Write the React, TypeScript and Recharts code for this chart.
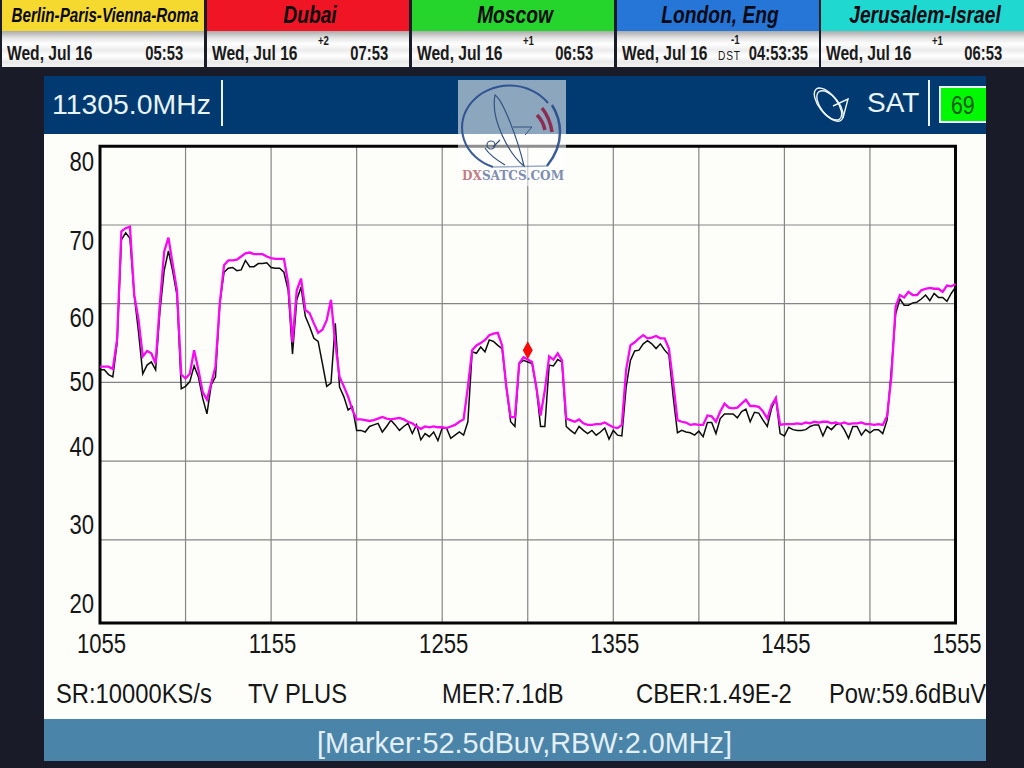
import { CartesianGrid, Line, LineChart, ReferenceArea, ReferenceDot, XAxis, YAxis } from "recharts";

const freqs = [
  1055, 1057.5, 1060, 1062.5, 1065, 1067.5, 1070, 1072.5, 1075, 1077.5, 1080, 1082.5, 1085, 1087.5, 1090, 1092.5, 1095, 1097.5, 1100, 1102.5,
  1105, 1107.5, 1110, 1112.5, 1115, 1117.5, 1120, 1122.5, 1125, 1127.5, 1130, 1132.5, 1135, 1137.5, 1140, 1142.5, 1145, 1147.5, 1150, 1152.5,
  1155, 1157.5, 1160, 1162.5, 1165, 1167.5, 1170, 1172.5, 1175, 1177.5, 1180, 1182.5, 1185, 1187.5, 1190, 1192.5, 1195, 1197.5, 1200, 1202.5,
  1205, 1207.5, 1210, 1212.5, 1215, 1217.5, 1220, 1222.5, 1225, 1227.5, 1230, 1232.5, 1235, 1237.5, 1240, 1242.5, 1245, 1247.5, 1250, 1252.5,
  1255, 1257.5, 1260, 1262.5, 1265, 1267.5, 1270, 1272.5, 1275, 1277.5, 1280, 1282.5, 1285, 1287.5, 1290, 1292.5, 1295, 1297.5, 1300, 1302.5,
  1305, 1307.5, 1310, 1312.5, 1315, 1317.5, 1320, 1322.5, 1325, 1327.5, 1330, 1332.5, 1335, 1337.5, 1340, 1342.5, 1345, 1347.5, 1350, 1352.5,
  1355, 1357.5, 1360, 1362.5, 1365, 1367.5, 1370, 1372.5, 1375, 1377.5, 1380, 1382.5, 1385, 1387.5, 1390, 1392.5, 1395, 1397.5, 1400, 1402.5,
  1405, 1407.5, 1410, 1412.5, 1415, 1417.5, 1420, 1422.5, 1425, 1427.5, 1430, 1432.5, 1435, 1437.5, 1440, 1442.5, 1445, 1447.5, 1450, 1452.5,
  1455, 1457.5, 1460, 1462.5, 1465, 1467.5, 1470, 1472.5, 1475, 1477.5, 1480, 1482.5, 1485, 1487.5, 1490, 1492.5, 1495, 1497.5, 1500, 1502.5,
  1505, 1507.5, 1510, 1512.5, 1515, 1517.5, 1520, 1522.5, 1525, 1527.5, 1530, 1532.5, 1535, 1537.5, 1540, 1542.5, 1545, 1547.5, 1550, 1552.5,
  1555,
];

const maxHold = [
  52, 52, 52, 51.7, 55.5, 69.2, 69.6, 69.8, 61.1, 58, 53.3, 54, 53.7, 52.4, 60, 66.6, 68.4, 65, 61.7, 51,
  50.5, 51.1, 54.1, 51.6, 48.8, 47.8, 49.9, 52, 60, 64.9, 65.5, 65.5, 65.6, 66, 66.4, 66.5, 66.3, 66.3, 66.3, 66,
  65.8, 65.7, 65.7, 65.7, 62.6, 55.1, 61.7, 63.2, 59.2, 58.8, 57.5, 56.3, 56.7, 57.9, 60.5, 55, 50.7, 49.5, 48.2, 46.5,
  45.3, 45.3, 45.2, 45.1, 45.2, 45.4, 45.6, 45.4, 45.3, 45.4, 45.5, 45.3, 45, 44.8, 44.4, 44.1, 44.4, 44.3, 44.4, 44.3,
  44.3, 44.2, 44.4, 44.6, 45, 45.3, 49.4, 54.1, 54.7, 55, 55.4, 56, 56.2, 56.3, 54.7, 49.4, 45.6, 45.6, 52.4, 53.2,
  52.9, 52.6, 49.4, 45.8, 49, 53.3, 52.9, 53.7, 52.8, 45.4, 45.2, 45, 45.3, 44.8, 44.6, 44.6, 44.7, 44.7, 44.9, 44.6,
  44.3, 44.2, 44.6, 51.6, 54.7, 55.1, 55.6, 56, 55.6, 55.7, 55.9, 55.6, 55.6, 54.3, 49.9, 45.2, 45, 44.9, 44.6, 44.7,
  44.6, 44.6, 45.8, 45.7, 45, 46.3, 47.3, 46.8, 46.7, 46.8, 47.3, 47.8, 47, 47, 46.9, 46.3, 45.4, 47.1, 48, 44.6,
  44.7, 44.7, 44.7, 44.8, 44.7, 44.9, 44.8, 45, 44.9, 45, 45, 44.8, 44.9, 44.7, 44.9, 44.7, 44.8, 44.8, 44.9, 44.7,
  44.7, 44.6, 44.7, 44.6, 45.7, 50.7, 59.6, 61.1, 60.8, 61.5, 61.1, 61.1, 61.7, 61.9, 62, 61.9, 61.9, 61.5, 62.3, 62.2,
  62.5,
];

const live = [
  51.6, 51.6, 51, 50.7, 55, 68.1, 69, 68.3, 61.1, 56.4, 51.1, 52.2, 52.6, 51.6, 59, 64.2, 66.7, 64.1, 61.1, 49.2,
  49.5, 50.1, 52.1, 50.7, 48, 46, 49.7, 50.7, 60, 64, 64.5, 64.6, 64.2, 64.3, 65.5, 64.7, 64.7, 65.1, 65.1, 65.2,
  64.6, 64.5, 64.5, 64, 61.7, 53.6, 60.5, 62.1, 58.4, 57.1, 55.6, 55.2, 52.4, 49.5, 49.9, 57.5, 49.4, 48.2, 46.5, 46.9,
  43.9, 43.9, 43.7, 44.4, 44.6, 44.8, 43.7, 44.4, 45.2, 44.6, 43.9, 44.4, 44.8, 43.5, 44.6, 42.7, 43.5, 43.1, 43.7, 42.6,
  44.2, 44.2, 42.9, 43.3, 43.7, 43.3, 45, 53.9, 53.7, 54.5, 53.9, 55.4, 55.2, 54.7, 54.3, 49.4, 45, 44.4, 52.4, 52.8,
  52.6, 52.4, 49.4, 44.4, 44.4, 52.2, 52.1, 52.9, 52.6, 44.4, 43.9, 43.5, 44.4, 43.9, 43.5, 43.9, 43.3, 43.7, 44.2, 42.8,
  43.9, 43.3, 43.2, 49.4, 52.8, 54, 54.1, 54.9, 55.3, 54.9, 54.3, 54.9, 54.1, 53.5, 48.2, 43.6, 43.9, 43.7, 43.6, 43.3,
  43.8, 43.1, 44.9, 44.9, 43.5, 45.4, 46, 46, 46, 45.5, 46.3, 46.6, 45, 46.2, 46.1, 45.2, 44.4, 46.7, 48, 43.5,
  43.2, 44.3, 44, 43.9, 43.9, 44, 44.4, 44.6, 44.6, 43.2, 44.4, 44, 44.6, 44.8, 44, 42.9, 44.4, 44.4, 43.3, 44,
  43.6, 44, 44, 43.5, 45.2, 51.6, 58.7, 60.6, 59.8, 59.8, 60.1, 60.2, 60.6, 61.1, 60.4, 61.3, 60.8, 60.8, 60.3, 61.3,
  62.1,
];

const xTicks = [1055, 1105, 1155, 1205, 1255, 1305, 1355, 1405, 1455, 1505, 1555];
const xLabels = [1055, 1155, 1255, 1355, 1455, 1555];
const yTicks = [20, 30, 40, 50, 60, 70, 80];
const gridLevels = [30, 40, 50, 60, 70];
const markerFreq = 1305;
const markerLevel = 54.1;

const cities = ["Berlin-Paris-Vienna-Roma", "Dubai", "Moscow", "London, Eng", "Jerusalem-Israel"];
const cityOffsets = ["", "+2", "+1", "-1", "+1"];
const cityTimes = ["05:53", "07:53", "06:53", "04:53:35", "06:53"];
const cityColors = ["#f6d92e", "#f01524", "#25d52c", "#2676d8", "#1fd8cf"];
const cityDate = "Wed, Jul 16";

const infoItems = ["SR:10000KS/s", "TV PLUS", "MER:7.1dB", "CBER:1.49E-2", "Pow:59.6dBuV"];

const data = freqs.map((freq, i) => ({ freq, live: live[i], maxHold: maxHold[i] }));

const sans = '"Liberation Sans", Arial, sans-serif';

const cellLeft = [2, 207, 412, 617, 821];
const cellWidth = [202, 202, 202, 202, 203];
const infoLeft = [12, 204, 398, 592, 785];
const yShift: Record<number, number> = { 80: 15, 70: 15, 60: 14, 50: -1, 40: -15, 30: -15, 20: -15 };

function XTick({ x, y, payload }: any) {
  if (!xLabels.includes(payload.value)) return null;
  return (
    <text transform={`translate(${x + 1.5} ${y + 22}) scale(0.82 1)`} textAnchor="middle" fontFamily={sans} fontSize={27} fill="#161616">
      {payload.value}
    </text>
  );
}

function YTick({ y, payload, side }: any) {
  const left = side === "left";
  return (
    <text
      transform={`translate(${left ? 50 : 918} ${y + yShift[payload.value] + 9.5}) scale(0.82 1)`}
      textAnchor={left ? "end" : "start"}
      fontFamily={sans}
      fontSize={27}
      fill="#161616"
    >
      {payload.value}
    </text>
  );
}

function Marker({ cx, cy }: any) {
  return <path d={`M ${cx} ${cy - 9} L ${cx + 5} ${cy} L ${cx} ${cy + 9} L ${cx - 5} ${cy} Z`} fill="#f80a0a" />;
}

function Clock({ i }: { i: number }) {
  const small = { position: "absolute", fontFamily: sans, fontSize: 12, lineHeight: "14px", color: "#1a1a1a", whiteSpace: "nowrap" } as const;
  const body = { position: "absolute", top: 41, fontFamily: sans, fontWeight: 700, fontSize: 20, lineHeight: "24px", color: "#1a1a1a", whiteSpace: "nowrap" } as const;
  return (
    <div
      style={{
        position: "absolute",
        left: cellLeft[i],
        top: 0,
        width: cellWidth[i],
        height: 67,
        overflow: "hidden",
        background:
          "linear-gradient(#a9a9a9 31px, #e4e4e4 38px, #fff 44px, #ececec 50px, #fff 56px, #e8e8e8 62px, #f4f4f4 67px)",
      }}
    >
      <div style={{ position: "absolute", left: 0, top: 0, width: "100%", height: 31, background: cityColors[i] }} />
      <div
        style={{
          position: "absolute",
          left: "calc(50% + 2px)",
          top: 0,
          transform: `translateX(-50%) scaleX(${i === 0 ? 0.76 : 0.8})`,
          fontFamily: sans,
          fontWeight: 700,
          fontStyle: "italic",
          fontSize: i === 0 ? 20 : 24,
          lineHeight: "30px",
          color: "#0a0a14",
          whiteSpace: "nowrap",
        }}
      >
        {cities[i]}
      </div>
      <div style={{ ...body, left: 5, transform: "scaleX(0.78)", transformOrigin: "left" }}>{cityDate}</div>
      <div style={{ ...small, fontWeight: 700, left: i === 3 ? 114 : 111, top: i === 3 ? 33 : 34, transform: "scaleX(0.8)", transformOrigin: "left" }}>
        {cityOffsets[i]}
      </div>
      {i === 3 && <div style={{ ...small, left: 101, top: 49, transform: "scaleX(0.85)", transformOrigin: "left", letterSpacing: 1 }}>DST</div>}
      <div style={{ ...body, right: i === 3 ? 11 : i === 4 ? 22 : 21, transform: "scaleX(0.74)", transformOrigin: "right" }}>{cityTimes[i]}</div>
    </div>
  );
}

function Logo() {
  return (
    <svg width={1024} height={768} style={{ position: "absolute", left: 0, top: 0, pointerEvents: "none" }}>
      <rect x={458} y={80} width={108} height={106} fill="#fff" fillOpacity={0.55} />
      <path d="M 493 167 A 47.5 42 0 1 1 548 103" fill="none" stroke="#264a8c" strokeOpacity={0.9} strokeWidth={2} />
      <path d="M 552 105 Q 560 118 560 132 Q 560 150 547 166" fill="none" stroke="#264a8c" strokeOpacity={0.9} strokeWidth={2.5} />
      <path d="M 493 167 L 547 166" fill="none" stroke="#264a8c" strokeOpacity={0.45} strokeWidth={1.5} />
      <path d="M 537 115 Q 543 121 545 130 M 542 108 Q 550 118 552 132" fill="none" stroke="#8e2b50" strokeWidth={3.5} />
      <path d="M 495 95 C 503 100 518 140 524 166 C 510 155 490 120 495 95 Z" fill="none" stroke="#33507f" strokeWidth={1.2} />
      <path d="M 513 127 L 532 127 L 525 135" fill="none" stroke="#33507f" strokeWidth={1} />
      <circle cx={491} cy={145} r={4} fill="none" stroke="#33507f" strokeWidth={1.2} />
      <path d="M 485 148 Q 490 156 505 165 M 500 140 L 493 147" fill="none" stroke="#33507f" strokeWidth={1.2} />
      <text x={462} y={180} fontFamily='"DejaVu Serif", "Liberation Serif", serif' fontWeight={700} fontSize={12.1} fill="#7f8db0">
        <tspan fill="#c47d86">DX</tspan>SATCS.COM
      </text>
    </svg>
  );
}

export default function App() {
  return (
    <div style={{ position: "absolute", left: 0, top: 0, width: 1024, height: 768, background: "#191c28", overflow: "hidden" }}>
      {cities.map((_, i) => (
        <Clock key={i} i={i} />
      ))}

      <div style={{ position: "absolute", left: 44, top: 76, width: 942, height: 58, background: "#003a70", overflow: "hidden", color: "#e8f3fa", fontFamily: sans }}>
        <div style={{ position: "absolute", left: 8, top: 11, fontSize: 28.4, lineHeight: "34px" }}>11305.0MHz</div>
        <div style={{ position: "absolute", left: 177, top: 4, width: 2, height: 46, background: "#e8f3fa" }} />
        <svg width={42} height={46} style={{ position: "absolute", left: 769, top: 6 }}>
          <g fill="none" stroke="#eef6fb" strokeWidth={1.4}>
            <ellipse cx={15} cy={22} rx={9} ry={19} transform="rotate(-38 15 22)" />
            <ellipse cx={17} cy={24} rx={9} ry={18} transform="rotate(-38 17 24)" />
            <path d="M 20 24 L 35 17 L 30 36" />
          </g>
        </svg>
        <div style={{ position: "absolute", left: 823, top: 10, fontSize: 28, lineHeight: "34px" }}>SAT</div>
        <div style={{ position: "absolute", left: 884, top: 4, width: 2, height: 46, background: "#e8f3fa" }} />
        <div style={{ position: "absolute", left: 895, top: 10, width: 50, height: 33, background: "#00f800", border: "2px solid #e8f3fa", borderRight: "none" }}>
          <div style={{ position: "absolute", left: 10, top: 0, color: "#0b5a10", fontSize: 26, lineHeight: "34px", transform: "scaleX(0.82)", transformOrigin: "left" }}>69</div>
        </div>
      </div>

      <div style={{ position: "absolute", left: 44, top: 134, width: 942, height: 585, background: "#fdfefa", overflow: "hidden" }}>
        <LineChart width={942} height={585} data={data} margin={{ top: 12.3, right: 0, bottom: 0, left: 0 }}>
          <CartesianGrid stroke="#858585" strokeWidth={1.2} verticalValues={xTicks.slice(1, -1)} horizontalValues={gridLevels} yAxisId="left" />
          <XAxis dataKey="freq" type="number" domain={[1055, 1555]} ticks={xTicks} interval={0} height={96} axisLine={false} tickLine={false} tick={<XTick />} />
          <YAxis yAxisId="left" domain={[19.43, 80]} ticks={yTicks} interval={0} width={56} axisLine={false} tickLine={false} tick={<YTick side="left" />} />
          <YAxis yAxisId="right" orientation="right" domain={[19.43, 80]} ticks={yTicks} interval={0} width={30.5} axisLine={false} tickLine={false} tick={<YTick side="right" />} />
          <Line yAxisId="left" dataKey="live" stroke="#0c0c0c" strokeWidth={1.5} dot={false} isAnimationActive={false} />
          <Line yAxisId="left" dataKey="maxHold" stroke="#f908f4" strokeWidth={2.3} dot={false} isAnimationActive={false} />
          <ReferenceArea yAxisId="left" x1={1055} x2={1555} y1={19.43} y2={80} fill="none" stroke="#050505" strokeWidth={3} />
          <ReferenceDot yAxisId="left" x={markerFreq} y={markerLevel} shape={<Marker />} />
        </LineChart>
        {infoItems.map((item, i) => (
          <div key={item} style={{ position: "absolute", left: infoLeft[i], top: 543, fontFamily: sans, fontSize: 27, lineHeight: "34px", color: "#161616", whiteSpace: "nowrap", transform: "scaleX(0.88)", transformOrigin: "left" }}>
            {item}
          </div>
        ))}
      </div>

      <div style={{ position: "absolute", left: 44, top: 719, width: 942, height: 42, background: "#4a84a8", color: "#e3eff6", fontFamily: sans, fontSize: 28.8, lineHeight: "48px", textAlign: "center", paddingLeft: 19, boxSizing: "border-box" }}>
        [Marker:52.5dBuv,RBW:2.0MHz]
      </div>

      <Logo />
    </div>
  );
}
